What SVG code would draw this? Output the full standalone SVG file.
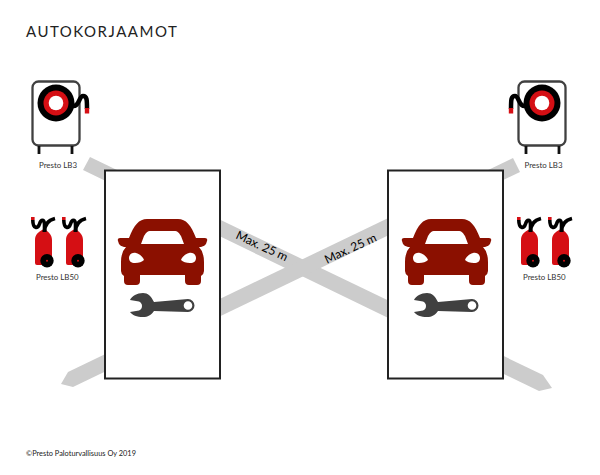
<svg xmlns="http://www.w3.org/2000/svg" width="600" height="475" viewBox="0 0 600 475">
<style>
text{font-family:"Lato","Open Sans","Liberation Sans",sans-serif;fill:#222}
.lbl{font-size:7.900px;fill:#333}
.band{fill:#ccc}
.box{fill:#fff;stroke:#222;stroke-width:2}
.car{fill:#8b1000}
.wr{fill:#404040}
.hose{fill:none;stroke:#000;stroke-width:3.600}
.red{fill:#d50f14}
</style>
<defs>
<g id="reel">
<rect x="32.500" y="81.500" width="47" height="64" rx="6" fill="#fff" stroke="#404040" stroke-width="2.300"/>
<path d="M39 146v8M72 146v8" stroke="#111" stroke-width="2.800" fill="none"/>
<circle cx="56" cy="103" r="18.500" fill="#000"/>
<circle cx="56" cy="103" r="12.500" fill="#d50f14"/>
<circle cx="56" cy="103" r="7.300" fill="#fff"/>
<path d="M73 106C79 107 79 96 83 96C87 96 87 100 87 109" class="hose" stroke-width="4.500" style="stroke-width:4.500px"/>
<rect x="84.800" y="108" width="4.400" height="5.500" fill="#d50f14"/>
</g>
<g id="ext">
<path class="red" d="M35 240C35 234 39 232 42 230L45 229C48 232 52 234 52 240V265H37Q35 265 35 263Z"/>
<rect x="31" y="217" width="3.600" height="3" fill="#d50f14"/>
<path class="hose" d="M32.800 220C32.800 229 38 229 39.500 224C41 219 44 219 44.500 224V232"/>
<path class="hose" d="M44.500 232C44.500 224 49 220 55 218.500"/>
<circle cx="47" cy="260.700" r="6.700" fill="#000"/>
<circle cx="47" cy="260.700" r="1" fill="#d50f14"/>
</g>
<g id="car">
<path class="car" fill-rule="evenodd" d="M147 219H178C186 219 191 225 196 238H205Q208 238 207 241L206 244Q205 246 201 247H199Q204 252 204 262V271Q204 274 201 276V281Q201 285 197 285H189Q185 285 185 281V275H140V281Q140 285 136 285H128Q124 285 124 281V276Q121 274 121 271V262Q121 252 126 247H124Q120 246 119 244L118 241Q117 238 120 238H129C134 225 139 219 147 219ZM151 231C147 231 146 233 144 236L141 244H184L181 236C179 233 178 231 174 231ZM129 258C129 254 133 252 136 253C140 254 143 257 144 260C142 262 139 263 135 263C131 263 129 261 129 258ZM196 258C196 254 192 252 189 253C185 254 182 257 181 260C183 262 186 263 190 263C194 263 196 261 196 258Z"/>
</g>
<g id="wrench">
<path class="wr" fill-rule="evenodd" d="M143 293C137 293 132 296 130 300L139 301.500Q142 303 142 306Q142 309 139 310.500L130 312C132 315 137 317 143 317C148 317 151 315 154 311L188 312A6.500 6.500 0 0 0 188 299L154 302C151 296 148 293 143 293ZM188 301.200A4.300 4.300 0 1 0 188 309.800A4.300 4.300 0 1 0 188 301.200Z"/>
</g>
</defs>
<g id="connectors">
<polygon class="band" points="90,157 543,375 552,388 539,391 83,170"/>
<polygon class="band" points="513,158 520,172 73,387 61,384 68,372"/>
</g>
<text x="26" y="37" font-size="15" letter-spacing="1.500">AUTOKORJAAMOT</text>
<g id="box-left"><rect class="box" x="105" y="170.500" width="115" height="208"/></g>
<g id="box-right"><rect class="box" x="388" y="170.500" width="115" height="208"/></g>
<g id="label-left"><text transform="translate(235 238) rotate(25)" font-size="12" style="fill:#000">Max. 25 m</text></g>
<g id="label-right"><text transform="translate(327 264) rotate(-25)" font-size="12" style="fill:#000">Max. 25 m</text></g>
<g id="car-left"><use href="#car"/></g>
<g id="wrench-left"><use href="#wrench"/></g>
<g id="car-right"><use href="#car" x="284"/></g>
<g id="wrench-right"><use href="#wrench" x="284"/></g>
<g id="reel-left"><use href="#reel"/><text class="lbl" x="39" y="168">Presto LB3</text></g>
<g id="reel-right"><use href="#reel" transform="matrix(-1 0 0 1 598 0)"/><text class="lbl" x="524.500" y="168">Presto LB3</text></g>
<g id="ext-left"><use href="#ext"/><use href="#ext" x="31"/><text class="lbl" x="36" y="280">Presto LB50</text></g>
<g id="ext-right"><use href="#ext" x="486"/><use href="#ext" x="517"/><text class="lbl" x="523" y="280">Presto LB50</text></g>
<text x="26" y="456" font-size="7.400">©Presto Paloturvallisuus Oy 2019</text>
</svg>
